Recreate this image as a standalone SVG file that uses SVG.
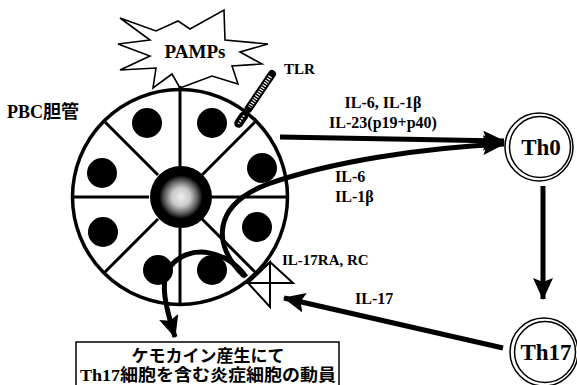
<svg xmlns="http://www.w3.org/2000/svg" width="577" height="385" viewBox="0 0 577 385">
  <style>
    .lbl { font-family: "Liberation Serif", "Noto Sans CJK JP", serif; font-weight: bold; fill: #000; }
    .ln { fill: none; stroke: #000; }
    .thick { fill: none; stroke: #000; stroke-width: 5; }
    .nuc { fill: #000; }
  </style>
  <defs>
    <marker id="ah" markerUnits="userSpaceOnUse" markerWidth="22" markerHeight="20" viewBox="0 0 22 20" refX="21" refY="10" orient="auto">
      <path d="M0,0 L22,10 L0,20 L4,10 Z" fill="#000"/>
    </marker>
    <radialGradient id="core" cx="0.5" cy="0.5" r="0.5">
      <stop offset="0" stop-color="#f0f0f0"/>
      <stop offset="0.3" stop-color="#c8c8c8"/>
      <stop offset="0.55" stop-color="#555"/>
      <stop offset="0.7" stop-color="#000"/>
    </radialGradient>
  </defs>
  <rect width="577" height="385" fill="#fff"/>

  <!-- PAMPs burst -->
  <g id="pamps">
    <path class="ln" stroke-width="1.6" fill="#fff" d="M120,18 L156,31 L178,21 L190,29 L224,10 L225,40 L268,44 L240,52 L262,64 L232,66 L238,84 L212,76 L180,88 L172,74 L153,88 L156,68 L120,70 L150,56 L118,44 L150,40 Z"/>
    <text class="lbl" x="195" y="58" font-size="19" text-anchor="middle">PAMPs</text>
  </g>

  <!-- bile duct cross-section -->
  <g id="duct">
    <circle cx="180" cy="197" r="107.5" fill="#fff" stroke="#000" stroke-width="3.5"/>
    <g class="ln" stroke-width="3">
      <line x1="180" y1="166" x2="180" y2="86"/>
      <line x1="180" y1="228" x2="180" y2="304"/>
      <line x1="149" y1="197" x2="73" y2="197"/>
      <line x1="211" y1="197" x2="287" y2="197"/>
      <line x1="158" y1="175" x2="104" y2="121"/>
      <line x1="202" y1="175" x2="256" y2="121"/>
      <line x1="158" y1="219" x2="104" y2="273"/>
      <line x1="202" y1="219" x2="256" y2="273"/>
    </g>
    <circle cx="181" cy="197" r="31" fill="url(#core)"/>
    <circle class="nuc" cx="147" cy="123" r="15"/>
    <circle class="nuc" cx="212" cy="123" r="15"/>
    <circle class="nuc" cx="102" cy="173" r="15"/>
    <circle class="nuc" cx="262" cy="168" r="15"/>
    <circle class="nuc" cx="103" cy="232" r="15"/>
    <circle class="nuc" cx="257" cy="227" r="15"/>
    <circle class="nuc" cx="158" cy="270" r="15"/>
    <circle class="nuc" cx="212" cy="270" r="15"/>
    <text class="lbl" x="7" y="118" font-size="18">PBC胆管</text>
  </g>

  <!-- TLR receptor rod -->
  <g id="tlr">
    <g transform="translate(272,74) rotate(124)">
      <line x1="0" y1="0" x2="42" y2="0" stroke="#000" stroke-width="8" stroke-linecap="round"/>
      <line x1="3" y1="0" x2="40" y2="0" stroke="#fff" stroke-width="4" stroke-dasharray="1.2 1.4"/>
      <rect x="46" y="-4.5" width="18" height="9" rx="4.5" fill="#000"/>
      <line x1="50" y1="0" x2="60" y2="0" stroke="#fff" stroke-width="2" stroke-dasharray="1.5 1.5"/>
    </g>
    <text class="lbl" x="284" y="74" font-size="15">TLR</text>
  </g>

  <!-- IL-17 receptor -->
  <g id="il17r">
    <polygon class="ln" stroke-width="2" points="270,262 293,283 248,283"/>
    <polygon class="ln" stroke-width="2" points="270,262 270,307 248,283"/>
    <text class="lbl" x="282" y="265" font-size="15">IL-17RA, RC</text>
  </g>

  <!-- Th0 cell -->
  <g id="th0">
    <circle cx="539" cy="147" r="34" fill="#fff" stroke="#000" stroke-width="1.5"/>
    <circle cx="540" cy="147" r="30.5" fill="none" stroke="#000" stroke-width="1.5"/>
    <text class="lbl" x="541" y="155" font-size="23" text-anchor="middle">Th0</text>
  </g>

  <!-- Th17 cell -->
  <g id="th17">
    <circle cx="544" cy="352" r="34" fill="#fff" stroke="#000" stroke-width="1.5"/>
    <circle cx="545" cy="352" r="30.5" fill="none" stroke="#000" stroke-width="1.5"/>
    <text class="lbl" x="546" y="360" font-size="23" text-anchor="middle">Th17</text>
  </g>

  <!-- outcome box -->
  <g id="box">
    <rect x="76" y="342" width="263" height="50" fill="#fff" stroke="#000" stroke-width="1.5"/>
    <text class="lbl" x="208" y="362" font-size="17" text-anchor="middle">ケモカイン産生にて</text>
    <text class="lbl" x="208" y="381" font-size="17" text-anchor="middle" textLength="256" lengthAdjust="spacingAndGlyphs">Th17細胞を含む炎症細胞の動員</text>
  </g>

  <!-- connectors -->
  <g id="connectors">
    <path class="thick" d="M280,137 L504,141" marker-end="url(#ah)"/>
    <path class="thick" d="M244,276 C212,245 212,205 268,184 C330,162 420,148 504,144" marker-end="url(#ah)"/>
    <path class="thick" d="M246,277 C228,250 188,242 169,268 C160,282 165,305 175,337" marker-end="url(#ah)"/>
    <path class="thick" d="M543,186 L543,299" marker-end="url(#ah)"/>
    <path class="thick" d="M503,348 L284,298" marker-end="url(#ah)"/>
  </g>

  <!-- cytokine labels -->
  <g id="labels">
    <text class="lbl" x="383" y="108" font-size="16" text-anchor="middle">IL-6, IL-1β</text>
    <text class="lbl" x="383" y="128" font-size="16" text-anchor="middle">IL-23(p19+p40)</text>
    <text class="lbl" x="335" y="182" font-size="16">IL-6</text>
    <text class="lbl" x="335" y="202" font-size="16">IL-1β</text>
    <text class="lbl" x="355" y="304" font-size="16">IL-17</text>
  </g>
</svg>
